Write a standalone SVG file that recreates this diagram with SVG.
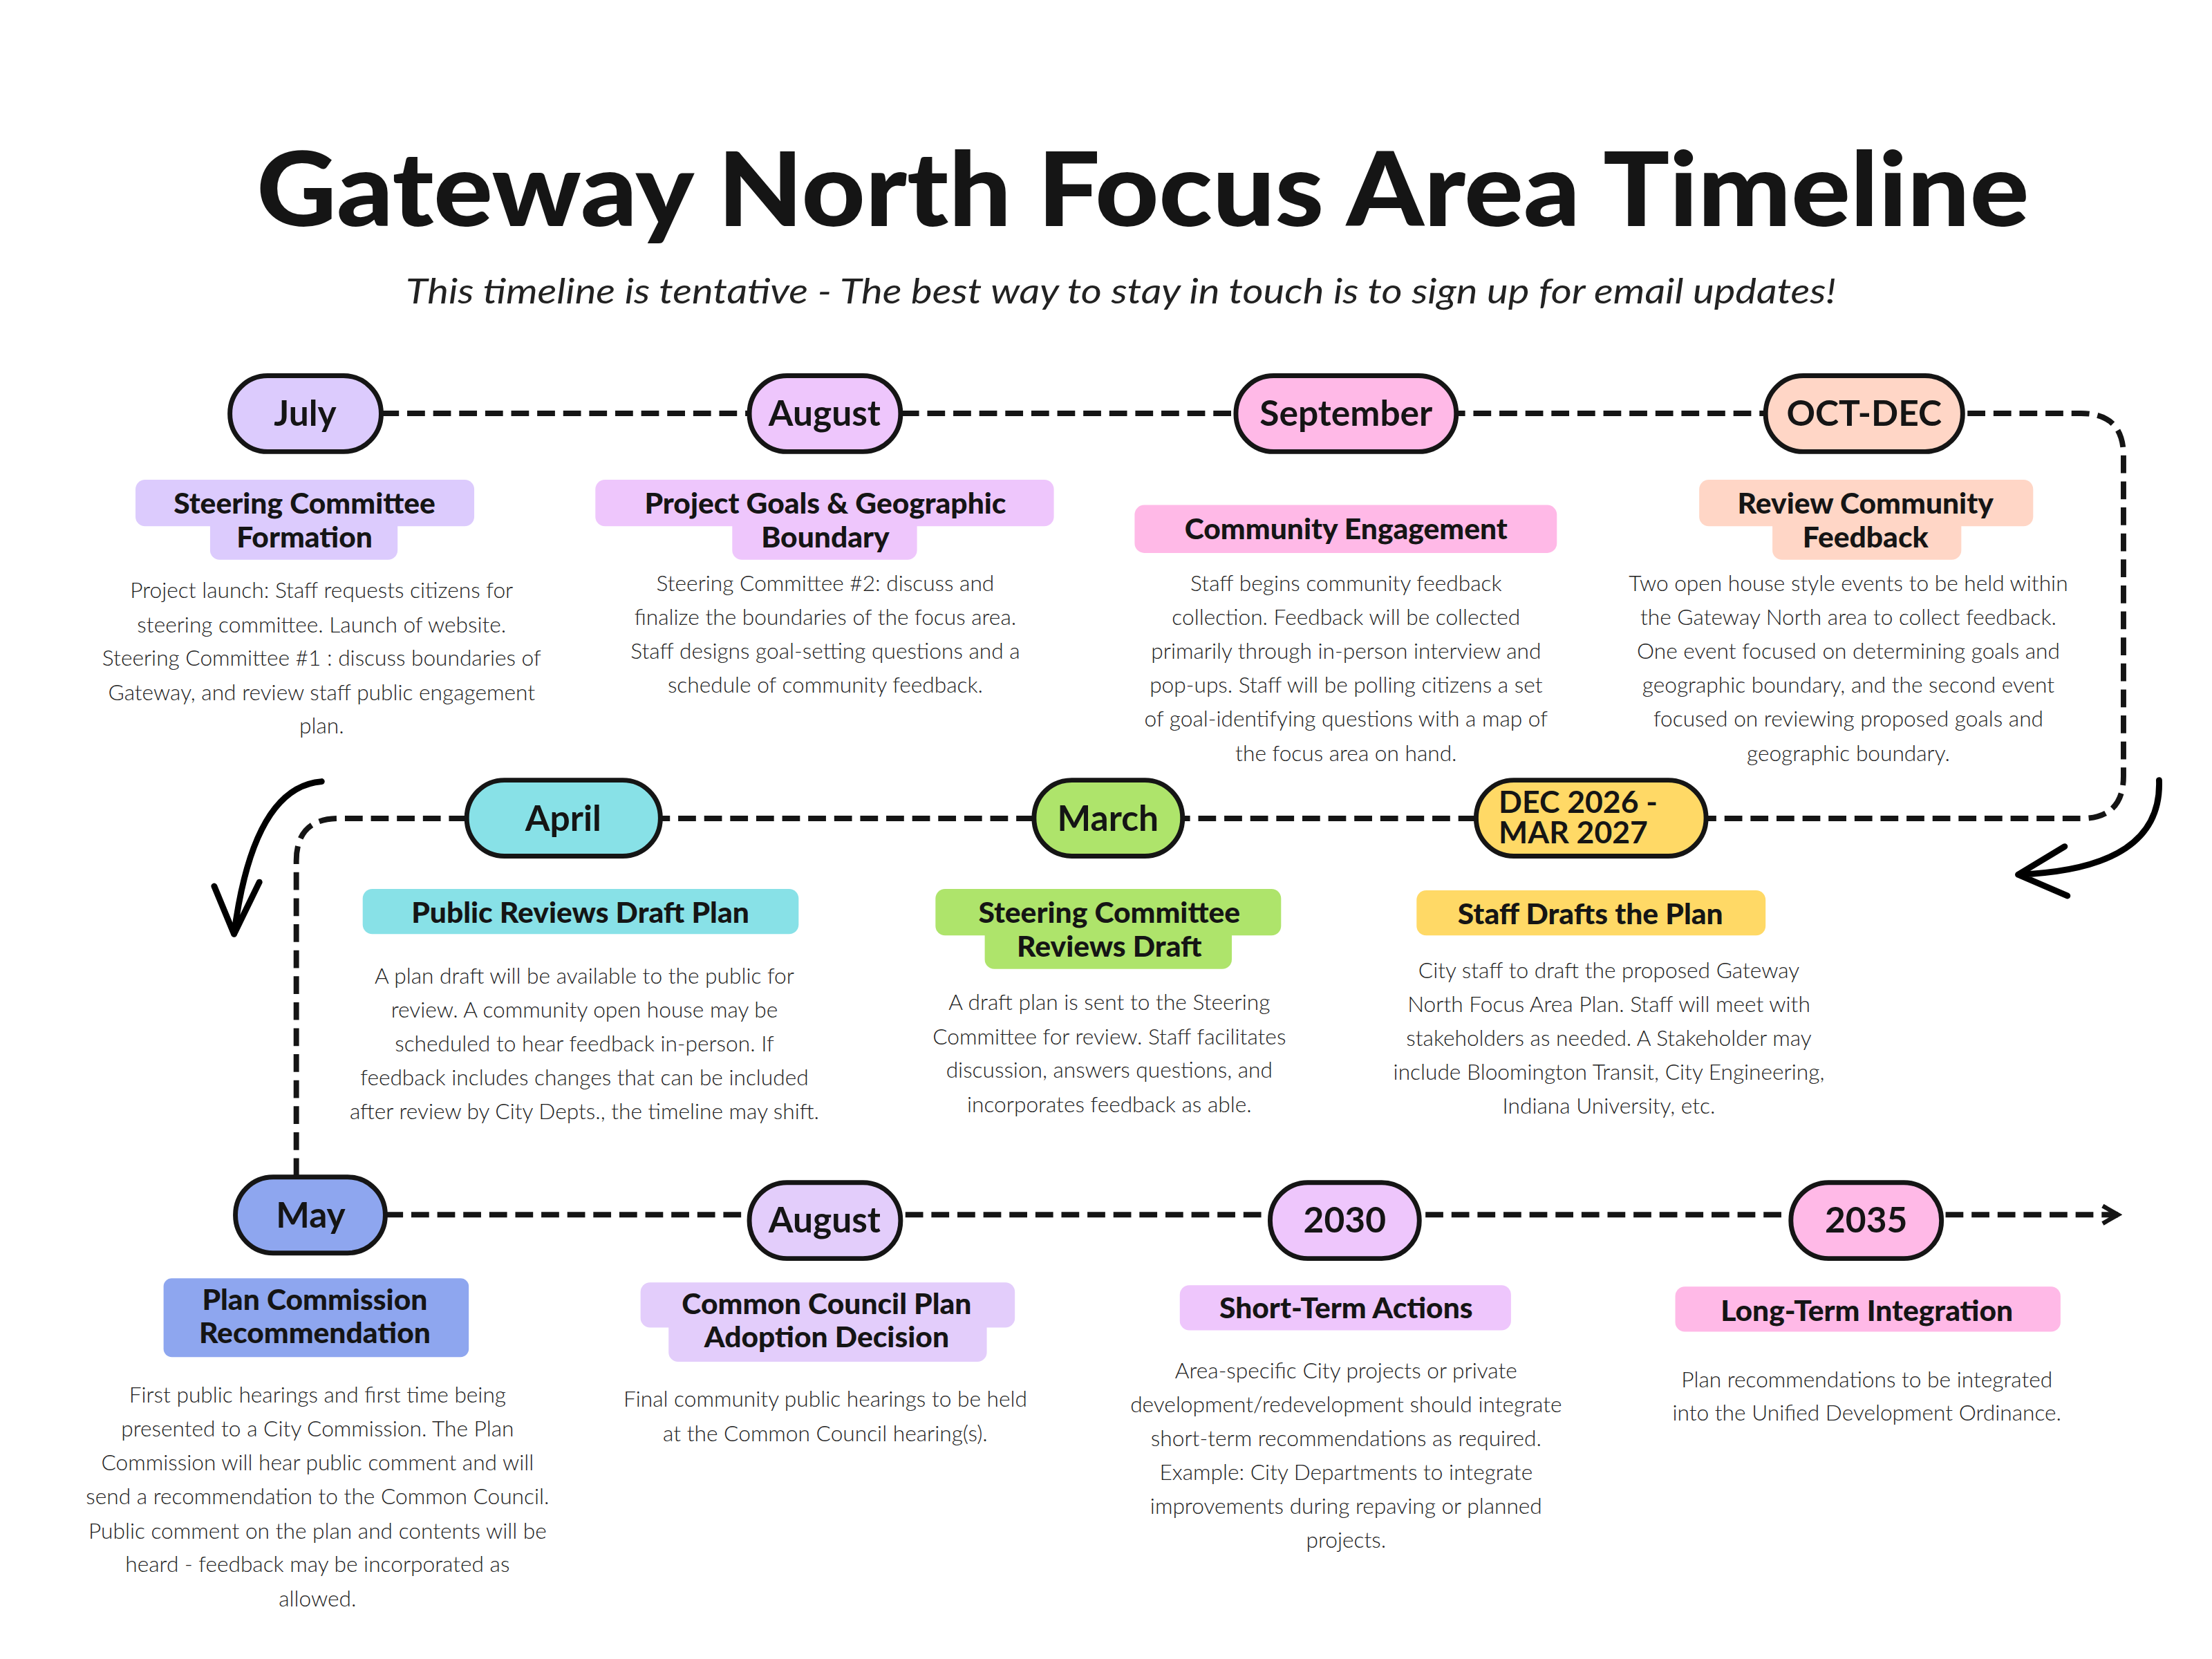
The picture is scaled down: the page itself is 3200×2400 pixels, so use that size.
<svg xmlns="http://www.w3.org/2000/svg" width="3200" height="2400" viewBox="0 0 3200 2400">
<style>
.pill{stroke:#151515;stroke-width:7}
.pt{font-family:Lato,"Liberation Sans",sans-serif;font-weight:700;font-size:52px;fill:#151515;text-anchor:middle}
.ht{font-family:Lato,"Liberation Sans",sans-serif;font-weight:900;font-size:43px;fill:#151515;text-anchor:middle}
.bt{font-family:Lato,"Liberation Sans",sans-serif;font-weight:300;font-size:32px;fill:#222;text-anchor:middle}
.dash{fill:none;stroke:#151515;stroke-width:8;stroke-dasharray:26 12}
.arc{fill:none;stroke:#000;stroke-width:9;stroke-linecap:round;stroke-linejoin:round}
</style>
<defs>
<marker id="ah" viewBox="0 0 10 10" refX="8" refY="5" markerWidth="4" markerHeight="4" orient="auto"><path d="M1 1L8 5L1 9" fill="none" stroke="#151515" stroke-width="2"/></marker>
</defs>
<rect width="3200" height="2400" fill="#fff"/>
<g transform="scale(0.99)">
<text x="1670" y="330" font-family="Lato,'Liberation Sans',sans-serif" font-weight="900" font-size="150" fill="#151515" text-anchor="middle" textLength="2590" lengthAdjust="spacingAndGlyphs">Gateway North Focus Area Timeline</text>
<text x="1638" y="443" font-family="Lato,'Liberation Sans',sans-serif" font-style="italic" font-size="50" fill="#222" text-anchor="middle" textLength="2090" lengthAdjust="spacingAndGlyphs">This timeline is tentative - The best way to stay in touch is to sign up for email updates!</text>
<g id="connectors">
<path class="dash" d="M557 604H3041Q3103 604 3103 666V1134Q3103 1196 3041 1196H2493"/>
<path class="dash" d="M2157 1196H1728M1511 1196H965M682 1196H495Q433 1196 433 1258V1722"/>
<path class="dash" d="M563 1775H3095" marker-end="url(#ah)"/>
<path class="arc" d="M470 1142Q370 1150 342 1365M313 1295L342 1365L379 1289"/>
<path class="arc" d="M3155 1140Q3160 1270 2949 1278M3017 1237L2949 1278L3021 1309"/>
</g>
<g id="n-july"><rect class="pill" x="336" y="549" width="221" height="111" rx="55" fill="#dccbfd"/><text class="pt" x="446" y="622">July</text></g>
<g id="n-aug1"><rect class="pill" x="1095" y="549" width="221" height="111" rx="55" fill="#eec6fc"/><text class="pt" x="1205" y="622">August</text></g>
<g id="n-sep"><rect class="pill" x="1806" y="549" width="322" height="111" rx="55" fill="#ffb9e7"/><text class="pt" x="1967" y="622">September</text></g>
<g id="n-oct"><rect class="pill" x="2580" y="549" width="288" height="111" rx="55" fill="#ffd6c6"/><text class="pt" x="2724" y="622">OCT-DEC</text></g>
<g id="n-apr"><rect class="pill" x="682" y="1140" width="283" height="111" rx="55" fill="#88e1e7"/><text class="pt" x="823" y="1214">April</text></g>
<g id="n-mar"><rect class="pill" x="1511" y="1140" width="217" height="111" rx="55" fill="#aee46b"/><text class="pt" x="1619" y="1214">March</text></g>
<g id="n-dec"><rect class="pill" x="2157" y="1140" width="336" height="111" rx="55" fill="#ffd966"/><text class="pt" style="text-anchor:start;font-size:45px"><tspan x="2190" y="1188">DEC 2026 -</tspan><tspan x="2190" y="1232">MAR 2027</tspan></text></g>
<g id="n-may"><rect class="pill" x="344" y="1720" width="219" height="111" rx="55" fill="#8ea6ef"/><text class="pt" x="454" y="1794">May</text></g>
<g id="n-aug2"><rect class="pill" x="1095" y="1728" width="221" height="111" rx="55" fill="#e3cdfb"/><text class="pt" x="1205" y="1801">August</text></g>
<g id="n-2030"><rect class="pill" x="1856" y="1728" width="218" height="111" rx="55" fill="#eec6fc"/><text class="pt" x="1965" y="1801">2030</text></g>
<g id="n-2035"><rect class="pill" x="2617" y="1728" width="220" height="111" rx="55" fill="#ffb9e7"/><text class="pt" x="2727" y="1801">2035</text></g>

<g id="h-july"><rect x="198" y="701" width="495" height="68" rx="14" fill="#dccbfd"/><rect x="307" y="755" width="274" height="63" rx="14" fill="#dccbfd"/>
<text class="ht"><tspan x="445" y="751">Steering Committee</tspan><tspan x="445" y="800">Formation</tspan></text>
<text class="bt"><tspan x="470" y="874">Project launch: Staff requests citizens for</tspan><tspan x="470" y="924">steering committee. Launch of website.</tspan><tspan x="470" y="973">Steering Committee #1 : discuss boundaries of</tspan><tspan x="470" y="1023">Gateway, and review staff public engagement</tspan><tspan x="470" y="1072">plan.</tspan></text></g>

<g id="h-aug1"><rect x="870" y="701" width="670" height="68" rx="14" fill="#eec6fc"/><rect x="1070" y="755" width="270" height="63" rx="14" fill="#eec6fc"/>
<text class="ht"><tspan x="1206" y="751">Project Goals &amp; Geographic</tspan><tspan x="1206" y="800">Boundary</tspan></text>
<text class="bt"><tspan x="1206" y="864">Steering Committee #2: discuss and</tspan><tspan x="1206" y="913">finalize the boundaries of the focus area.</tspan><tspan x="1206" y="963">Staff designs goal-setting questions and a</tspan><tspan x="1206" y="1012">schedule of community feedback.</tspan></text></g>

<g id="h-sep"><rect x="1658" y="738" width="617" height="70" rx="14" fill="#ffb9e7"/>
<text class="ht" x="1967" y="788">Community Engagement</text>
<text class="bt"><tspan x="1967" y="864">Staff begins community feedback</tspan><tspan x="1967" y="913">collection. Feedback will be collected</tspan><tspan x="1967" y="963">primarily through in-person interview and</tspan><tspan x="1967" y="1012">pop-ups. Staff will be polling citizens a set</tspan><tspan x="1967" y="1062">of goal-identifying questions with a map of</tspan><tspan x="1967" y="1112">the focus area on hand.</tspan></text></g>

<g id="h-oct"><rect x="2483" y="701" width="488" height="68" rx="14" fill="#ffd6c6"/><rect x="2590" y="755" width="276" height="63" rx="14" fill="#ffd6c6"/>
<text class="ht"><tspan x="2726" y="751">Review Community</tspan><tspan x="2726" y="800">Feedback</tspan></text>
<text class="bt"><tspan x="2701" y="864">Two open house style events to be held within</tspan><tspan x="2701" y="913">the Gateway North area to collect feedback.</tspan><tspan x="2701" y="963">One event focused on determining goals and</tspan><tspan x="2701" y="1012">geographic boundary, and the second event</tspan><tspan x="2701" y="1062">focused on reviewing proposed goals and</tspan><tspan x="2701" y="1112">geographic boundary.</tspan></text></g>

<g id="h-apr"><rect x="530" y="1299" width="637" height="66" rx="14" fill="#88e1e7"/>
<text class="ht" x="848" y="1349">Public Reviews Draft Plan</text>
<text class="bt"><tspan x="854" y="1437">A plan draft will be available to the public for</tspan><tspan x="854" y="1487">review. A community open house may be</tspan><tspan x="854" y="1536">scheduled to hear feedback in-person. If</tspan><tspan x="854" y="1586">feedback includes changes that can be included</tspan><tspan x="854" y="1635">after review by City Depts., the timeline may shift.</tspan></text></g>

<g id="h-mar"><rect x="1367" y="1299" width="505" height="68" rx="14" fill="#aee46b"/><rect x="1439" y="1353" width="361" height="63" rx="14" fill="#aee46b"/>
<text class="ht"><tspan x="1621" y="1349">Steering Committee</tspan><tspan x="1621" y="1398">Reviews Draft</tspan></text>
<text class="bt"><tspan x="1621" y="1476">A draft plan is sent to the Steering</tspan><tspan x="1621" y="1526">Committee for review. Staff facilitates</tspan><tspan x="1621" y="1575">discussion, answers questions, and</tspan><tspan x="1621" y="1625">incorporates feedback as able.</tspan></text></g>

<g id="h-dec"><rect x="2070" y="1301" width="510" height="66" rx="14" fill="#ffd966"/>
<text class="ht" x="2324" y="1351">Staff Drafts the Plan</text>
<text class="bt"><tspan x="2351" y="1429">City staff to draft the proposed Gateway</tspan><tspan x="2351" y="1479">North Focus Area Plan. Staff will meet with</tspan><tspan x="2351" y="1528">stakeholders as needed. A Stakeholder may</tspan><tspan x="2351" y="1578">include Bloomington Transit, City Engineering,</tspan><tspan x="2351" y="1627">Indiana University, etc.</tspan></text></g>

<g id="h-may"><rect x="239" y="1868" width="446" height="115" rx="12" fill="#8ea6ef"/>
<text class="ht"><tspan x="460" y="1914">Plan Commission</tspan><tspan x="460" y="1963">Recommendation</tspan></text>
<text class="bt"><tspan x="464" y="2050">First public hearings and first time being</tspan><tspan x="464" y="2099">presented to a City Commission. The Plan</tspan><tspan x="464" y="2149">Commission will hear public comment and will</tspan><tspan x="464" y="2198">send a recommendation to the Common Council.</tspan><tspan x="464" y="2248">Public comment on the plan and contents will be</tspan><tspan x="464" y="2297">heard - feedback may be incorporated as</tspan><tspan x="464" y="2347">allowed.</tspan></text></g>

<g id="h-aug2"><rect x="936" y="1874" width="547" height="66" rx="14" fill="#e3cdfb"/><rect x="977" y="1926" width="465" height="64" rx="14" fill="#e3cdfb"/>
<text class="ht"><tspan x="1208" y="1920">Common Council Plan</tspan><tspan x="1208" y="1969">Adoption Decision</tspan></text>
<text class="bt"><tspan x="1206" y="2056">Final community public hearings to be held</tspan><tspan x="1206" y="2106">at the Common Council hearing(s).</tspan></text></g>

<g id="h-2030"><rect x="1724" y="1878" width="484" height="66" rx="14" fill="#eec6fc"/>
<text class="ht" x="1967" y="1926">Short-Term Actions</text>
<text class="bt"><tspan x="1967" y="2014">Area-specific City projects or private</tspan><tspan x="1967" y="2064">development/redevelopment should integrate</tspan><tspan x="1967" y="2113">short-term recommendations as required.</tspan><tspan x="1967" y="2163">Example: City Departments to integrate</tspan><tspan x="1967" y="2212">improvements during repaving or planned</tspan><tspan x="1967" y="2262">projects.</tspan></text></g>

<g id="h-2035"><rect x="2448" y="1880" width="563" height="66" rx="14" fill="#ffb9e7"/>
<text class="ht" x="2728" y="1930">Long-Term Integration</text>
<text class="bt"><tspan x="2728" y="2027">Plan recommendations to be integrated</tspan><tspan x="2728" y="2076">into the Unified Development Ordinance.</tspan></text></g>
</g>
</svg>
